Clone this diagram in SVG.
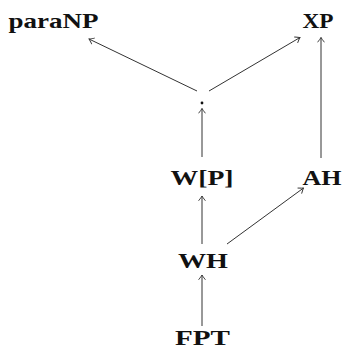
<svg xmlns="http://www.w3.org/2000/svg" width="344" height="351" viewBox="0 0 344 351">
  <style>
    .lbl { font-family: "Liberation Serif", "DejaVu Serif", serif; font-weight: bold; font-size: 22px; fill: #111; text-anchor: middle; }
    .edge { stroke: #333; stroke-width: 1; fill: none; }
  </style>
  <defs>
    <marker id="tip" viewBox="-6 -4 7 8" refX="0" refY="0" markerWidth="7" markerHeight="8" markerUnits="userSpaceOnUse" orient="auto">
      <path d="M -4.5 -3.2 Q -1.2 -0.6 0 0 Q -1.2 0.6 -4.5 3.2" stroke="#333" stroke-width="0.9" fill="none" stroke-linecap="round"/>
    </marker>
  </defs>

  <rect width="344" height="351" fill="#fff"/>

  <g id="connectors">
    <line class="edge" x1="197" y1="91" x2="89" y2="39" marker-end="url(#tip)"/>
    <line class="edge" x1="209" y1="91" x2="300" y2="37.5" marker-end="url(#tip)"/>
    <line class="edge" x1="321" y1="158" x2="321" y2="37.5" marker-end="url(#tip)"/>
    <line class="edge" x1="202" y1="157" x2="202" y2="108.5" marker-end="url(#tip)"/>
    <line class="edge" x1="202" y1="244" x2="202" y2="196" marker-end="url(#tip)"/>
    <line class="edge" x1="227" y1="244" x2="303.5" y2="188" marker-end="url(#tip)"/>
    <line class="edge" x1="202" y1="326" x2="202" y2="275" marker-end="url(#tip)"/>
  </g>

  <g id="node-paraNP">
    <text class="lbl" x="53.5" y="28" textLength="90" lengthAdjust="spacingAndGlyphs">paraNP</text>
  </g>
  <g id="node-XP">
    <text class="lbl" x="318" y="28" textLength="31" lengthAdjust="spacingAndGlyphs">XP</text>
  </g>
  <g id="node-dot">
    <circle cx="202" cy="103" r="1.4" fill="#111"/>
  </g>
  <g id="node-WP">
    <text class="lbl" x="202" y="185" textLength="63" lengthAdjust="spacingAndGlyphs">W[P]</text>
  </g>
  <g id="node-AH">
    <text class="lbl" x="322" y="185" textLength="39" lengthAdjust="spacingAndGlyphs">AH</text>
  </g>
  <g id="node-WH">
    <text class="lbl" x="203" y="268" textLength="50" lengthAdjust="spacingAndGlyphs">WH</text>
  </g>
  <g id="node-FPT">
    <text class="lbl" x="202.5" y="345" textLength="55" lengthAdjust="spacingAndGlyphs">FPT</text>
  </g>
</svg>
